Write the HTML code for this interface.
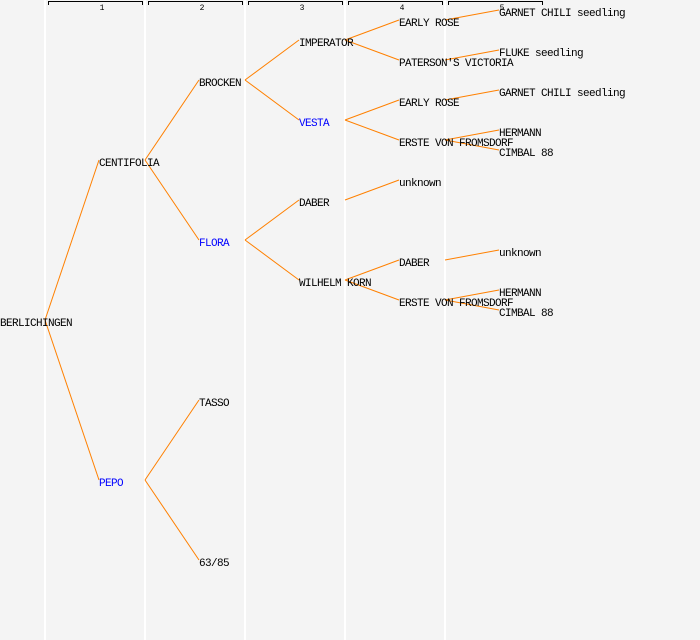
<!DOCTYPE html>
<html><head><style>
html,body{margin:0;padding:0;background:#f4f4f4;}
svg{display:block;}
text{font-family:"Liberation Mono",monospace;font-size:11px;letter-spacing:-0.6px;}
</style></head><body>
<svg width="700" height="640" xmlns="http://www.w3.org/2000/svg">
<rect width="700" height="640" fill="#f4f4f4"/>
<g stroke="#ffffff" stroke-width="2">
<line x1="45" y1="0" x2="45" y2="640"/><line x1="145" y1="0" x2="145" y2="640"/><line x1="245" y1="0" x2="245" y2="640"/><line x1="345" y1="0" x2="345" y2="640"/><line x1="445" y1="0" x2="445" y2="640"/>
</g>
<g stroke="#000" stroke-width="1" fill="none">
<path d="M48.5 5V1.5H142.5V5"/><path d="M148.5 5V1.5H242.5V5"/><path d="M248.5 5V1.5H342.5V5"/><path d="M348.5 5V1.5H442.5V5"/><path d="M448.5 5V1.5H542.5V5"/>
</g>
<g text-anchor="middle">
<text x="102" y="10" style="font-size:8px;letter-spacing:0">1</text><text x="202" y="10" style="font-size:8px;letter-spacing:0">2</text><text x="302" y="10" style="font-size:8px;letter-spacing:0">3</text><text x="402" y="10" style="font-size:8px;letter-spacing:0">4</text><text x="502" y="10" style="font-size:8px;letter-spacing:0">5</text>
</g>
<g stroke="#ff8000" stroke-width="1" fill="none">
<line x1="45" y1="320" x2="99" y2="160"/><line x1="45" y1="320" x2="99" y2="480"/>
<line x1="145" y1="160" x2="199" y2="80"/><line x1="145" y1="160" x2="199" y2="240"/>
<line x1="145" y1="480" x2="199" y2="400"/><line x1="145" y1="480" x2="199" y2="560"/>
<line x1="245" y1="80" x2="299" y2="40"/><line x1="245" y1="80" x2="299" y2="120"/>
<line x1="245" y1="240" x2="299" y2="200"/><line x1="245" y1="240" x2="299" y2="280"/>
<line x1="345" y1="40" x2="399" y2="20"/><line x1="345" y1="40" x2="399" y2="60"/>
<line x1="345" y1="120" x2="399" y2="100"/><line x1="345" y1="120" x2="399" y2="140"/>
<line x1="345" y1="200" x2="399" y2="180"/>
<line x1="345" y1="280" x2="399" y2="260"/><line x1="345" y1="280" x2="399" y2="300"/>
<line x1="445" y1="20" x2="499" y2="10"/><line x1="445" y1="60" x2="499" y2="50"/>
<line x1="445" y1="100" x2="499" y2="90"/><line x1="445" y1="140" x2="499" y2="130"/><line x1="445" y1="140" x2="499" y2="150"/>
<line x1="445" y1="260" x2="499" y2="250"/><line x1="445" y1="300" x2="499" y2="290"/><line x1="445" y1="300" x2="499" y2="310"/>
</g>
<g fill="#000">
<text x="0" y="326">BERLICHINGEN</text>
<text x="99" y="166">CENTIFOLIA</text>
<text x="99" y="486" fill="#0000ff">PEPO</text>
<text x="199" y="86">BROCKEN</text>
<text x="199" y="246" fill="#0000ff">FLORA</text>
<text x="199" y="406">TASSO</text>
<text x="199" y="566">63/85</text>
<text x="299" y="46">IMPERATOR</text>
<text x="299" y="126" fill="#0000ff">VESTA</text>
<text x="299" y="206">DABER</text>
<text x="299" y="286">WILHELM KORN</text>
<text x="399" y="26">EARLY ROSE</text>
<text x="399" y="66">PATERSON'S VICTORIA</text>
<text x="399" y="106">EARLY ROSE</text>
<text x="399" y="146">ERSTE VON FROMSDORF</text>
<text x="399" y="186">unknown</text>
<text x="399" y="266">DABER</text>
<text x="399" y="306">ERSTE VON FROMSDORF</text>
<text x="499" y="16">GARNET CHILI seedling</text>
<text x="499" y="56">FLUKE seedling</text>
<text x="499" y="96">GARNET CHILI seedling</text>
<text x="499" y="136">HERMANN</text>
<text x="499" y="156">CIMBAL 88</text>
<text x="499" y="256">unknown</text>
<text x="499" y="296">HERMANN</text>
<text x="499" y="316">CIMBAL 88</text>
</g>
</svg>
</body></html>
